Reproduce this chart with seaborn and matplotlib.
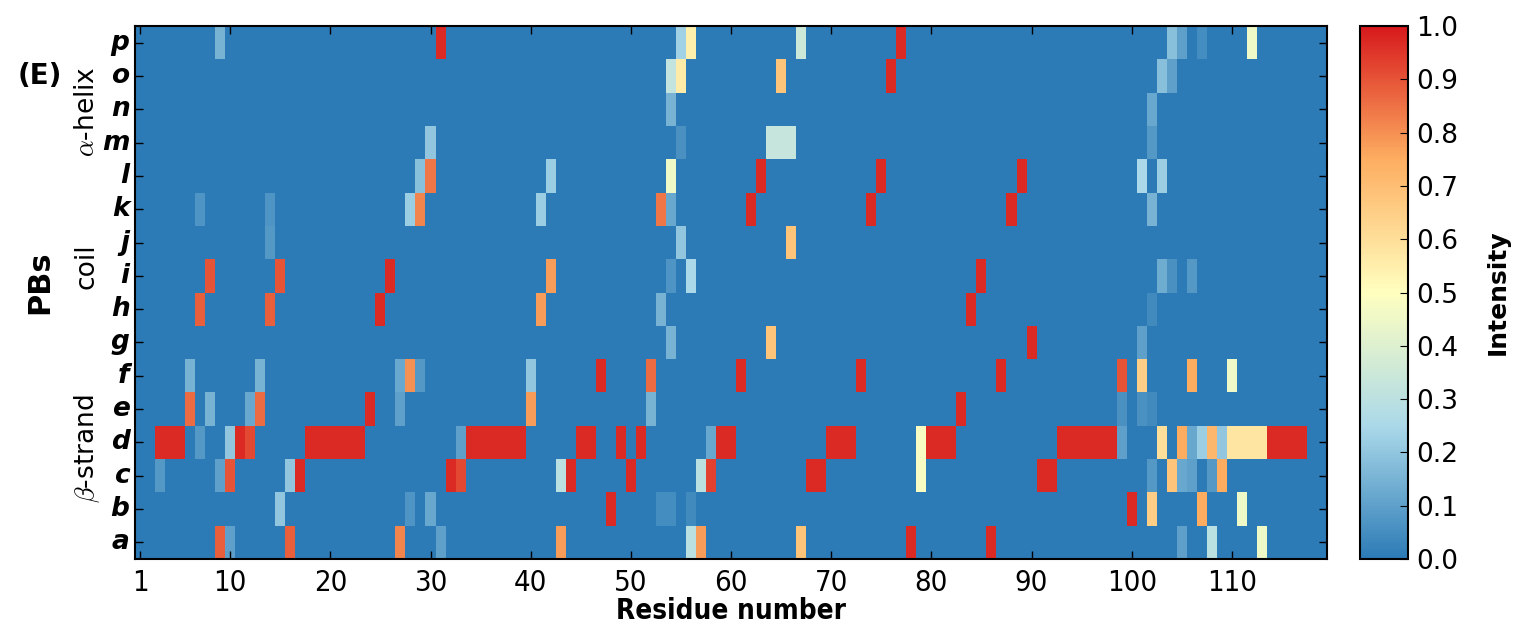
import numpy as np
import pandas as pd
import matplotlib
matplotlib.use("Agg")
import matplotlib.pyplot as plt
import seaborn as sns
from matplotlib.colors import LinearSegmentedColormap

n_residues = 119
residue_ticks = [1, 10, 20, 30, 40, 50, 60, 70, 80, 90, 100, 110]
pb_labels = ["p", "o", "n", "m", "l", "k", "j", "i", "h", "g", "f", "e", "d", "c", "b", "a"]

# non-zero intensities per protein block  {residue: intensity}
pb_p = {9: 0.15, 31: 0.97, 55: 0.23, 56: 0.55, 67: 0.35, 77: 0.97,
        104: 0.18, 105: 0.1, 107: 0.05, 112: 0.45}
pb_o = {54: 0.32, 55: 0.56, 65: 0.68, 76: 0.97, 103: 0.18, 104: 0.1}
pb_n = {54: 0.15, 102: 0.12}
pb_m = {30: 0.2, 55: 0.06, 64: 0.33, 65: 0.33, 66: 0.33, 102: 0.08}
pb_l = {29: 0.18, 30: 0.84, 42: 0.22, 54: 0.45, 63: 0.97, 75: 0.97,
        89: 0.97, 101: 0.25, 103: 0.22}
pb_k = {7: 0.07, 14: 0.07, 28: 0.22, 29: 0.82, 41: 0.22, 53: 0.84,
        54: 0.12, 62: 0.97, 74: 0.97, 88: 0.97, 102: 0.15}
pb_j = {14: 0.08, 55: 0.2, 66: 0.68}
pb_i = {8: 0.9, 15: 0.9, 26: 0.97, 42: 0.78, 54: 0.07, 56: 0.25,
        85: 0.97, 103: 0.13, 104: 0.06, 106: 0.08}
pb_h = {7: 0.88, 14: 0.88, 25: 0.97, 41: 0.78, 53: 0.15, 84: 0.97, 102: 0.04}
pb_g = {54: 0.15, 64: 0.68, 90: 0.97, 101: 0.1}
pb_f = {6: 0.15, 13: 0.15, 27: 0.12, 28: 0.8, 29: 0.08, 40: 0.2, 47: 0.97,
        52: 0.86, 61: 0.97, 73: 0.97, 87: 0.97, 99: 0.9, 101: 0.65,
        106: 0.75, 110: 0.45}
pb_e = {6: 0.86, 8: 0.15, 12: 0.12, 13: 0.86, 24: 0.97, 27: 0.1, 40: 0.78,
        52: 0.15, 83: 0.97, 99: 0.06, 101: 0.06, 102: 0.04}
pb_d = {3: 0.97, 4: 0.97, 5: 0.97, 7: 0.08, 10: 0.2, 11: 0.97, 12: 0.92,
        18: 0.97, 19: 0.97, 20: 0.97, 21: 0.97, 22: 0.97, 23: 0.97,
        33: 0.1, 34: 0.97, 35: 0.97, 36: 0.97, 37: 0.97, 38: 0.97, 39: 0.97,
        45: 0.97, 46: 0.97, 49: 0.97, 51: 0.97, 58: 0.12, 59: 0.97, 60: 0.97,
        70: 0.97, 71: 0.97, 72: 0.97, 79: 0.48, 80: 0.97, 81: 0.97, 82: 0.97,
        93: 0.97, 94: 0.97, 95: 0.97, 96: 0.97, 97: 0.97, 98: 0.97, 99: 0.1,
        103: 0.6, 105: 0.75, 106: 0.12, 107: 0.22, 108: 0.72, 109: 0.2,
        110: 0.58, 111: 0.58, 112: 0.58, 113: 0.58,
        114: 0.97, 115: 0.97, 116: 0.97, 117: 0.97}
pb_c = {3: 0.08, 9: 0.1, 10: 0.9, 16: 0.2, 17: 0.97, 32: 0.97, 33: 0.92,
        43: 0.3, 44: 0.97, 50: 0.97, 57: 0.3, 58: 0.93, 68: 0.97, 69: 0.97,
        79: 0.48, 91: 0.97, 92: 0.97, 102: 0.08, 104: 0.68, 105: 0.12,
        106: 0.1, 108: 0.08, 109: 0.75}
pb_b = {15: 0.2, 28: 0.07, 30: 0.12, 48: 0.97, 53: 0.05, 54: 0.05, 56: 0.04,
        100: 0.97, 102: 0.65, 107: 0.75, 111: 0.45}
pb_a = {9: 0.88, 10: 0.1, 16: 0.88, 27: 0.82, 31: 0.1, 43: 0.78, 56: 0.3,
        57: 0.78, 67: 0.68, 78: 0.97, 86: 0.97, 105: 0.1, 108: 0.3, 113: 0.45}

rows = [pb_p, pb_o, pb_n, pb_m, pb_l, pb_k, pb_j, pb_i, pb_h, pb_g,
        pb_f, pb_e, pb_d, pb_c, pb_b, pb_a]
residues = list(range(1, n_residues + 1))
df = pd.DataFrame([[r.get(res, 0.0) for res in residues] for r in rows],
                  index=pb_labels, columns=residues)

cmap = LinearSegmentedColormap.from_list(
    "rdylbu5", ["#2c7bb6", "#abd9e9", "#ffffbf", "#fdae61", "#d7191c"])

plt.rcParams["mathtext.fontset"] = "cm"
fig = plt.figure(figsize=(15.22, 6.26), dpi=100)
ax = fig.add_axes([0.0887, 0.1070, 0.7832, 0.8514])
cax = fig.add_axes([0.8936, 0.1070, 0.0315, 0.8514])

sns.heatmap(df, ax=ax, cbar_ax=cax, cmap=cmap, vmin=0, vmax=1)

# axes frame and ticks
for s in ax.spines.values():
    s.set_visible(True)
    s.set_linewidth(1.5)
ax.set_xticks([t - 0.5 for t in residue_ticks])
ax.set_xticklabels(residue_ticks, rotation=0, fontsize=21,
                   fontstretch="condensed")
ax.set_yticks(np.arange(len(pb_labels)) + 0.5)
ax.set_yticklabels(pb_labels, rotation=0, fontsize=19,
                   fontweight="bold", fontstyle="italic")
ax.tick_params(direction="in", top=True, right=True, length=6, width=1)
ax.tick_params(axis="y", pad=4)
ax.tick_params(axis="x", pad=7)
ax.set_xlabel("Residue number", fontsize=20, fontweight="bold",
              fontstretch="condensed", labelpad=0)
ax.set_ylabel("")

cbar = ax.collections[0].colorbar
cbar.outline.set_visible(True)
cbar.outline.set_linewidth(1.5)
cbar.set_ticks(np.round(np.arange(0, 1.01, 0.1), 1))
cbar.ax.tick_params(direction="in", length=6, labelsize=19, pad=6)
cbar.set_label("Intensity", fontsize=18, fontweight="bold", labelpad=20)

# group labels
fig.text(0.057, 0.822, r"$\alpha$-helix", rotation=90, fontsize=19,
         ha="center", va="center")
fig.text(0.057, 0.575, "coil", rotation=90, fontsize=19,
         ha="center", va="center")
fig.text(0.057, 0.284, r"$\beta$-strand", rotation=90, fontsize=19,
         ha="center", va="center")
fig.text(0.026, 0.55, "PBs", rotation=90, fontsize=22, fontweight="bold",
         ha="center", va="center")
fig.text(0.026, 0.878, "(E)", fontsize=20, fontweight="bold",
         ha="center", va="center")

plt.savefig("out.png", dpi=100)
plt.close()
